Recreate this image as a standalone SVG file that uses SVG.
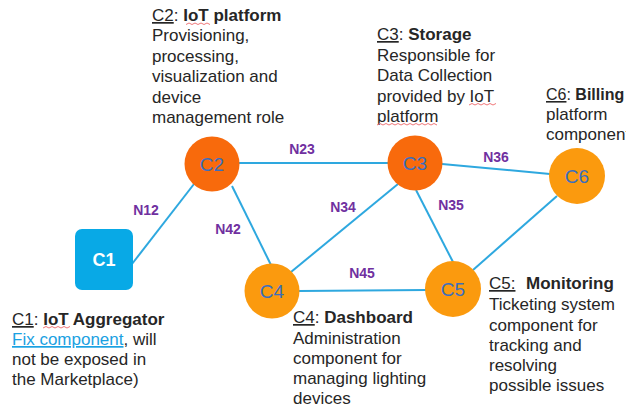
<svg xmlns="http://www.w3.org/2000/svg" width="626" height="412" viewBox="0 0 626 412">
<style>
.edge{stroke:#2EA8DF;stroke-width:2;fill:none}
.elab{font-family:"Liberation Sans",Arial,sans-serif;font-size:14px;font-weight:bold;fill:#7030A0;text-anchor:middle}
.red{fill:#F86A0C}
.org{fill:#FB9A0E}
.clab{font-family:"Liberation Sans",Arial,sans-serif;font-size:19px;fill:#3A6EBE;text-anchor:middle}
.desc{font-family:"Liberation Sans",Arial,sans-serif;font-size:17px;fill:#262626}
.b{font-weight:bold}
.u{text-decoration:underline}
.sq{stroke:#F0787A;stroke-width:1;fill:none}
</style>
<rect width="626" height="412" fill="#FFFFFF"/>
<g id="connectors">
<line class="edge" x1="132" y1="264" x2="194" y2="184"/>
<line class="edge" x1="239" y1="163" x2="388" y2="163"/>
<line class="edge" x1="232" y1="186" x2="271" y2="265"/>
<line class="edge" x1="398" y1="184" x2="291" y2="272"/>
<line class="edge" x1="442" y1="164" x2="550" y2="174"/>
<line class="edge" x1="416" y1="190" x2="453" y2="262"/>
<line class="edge" x1="299" y1="291" x2="426" y2="290"/>
<line class="edge" x1="473" y1="270" x2="557" y2="196"/>
<text class="elab" x="146" y="215">N12</text>
<text class="elab" x="302" y="154">N23</text>
<text class="elab" x="228" y="234">N42</text>
<text class="elab" x="343" y="212">N34</text>
<text class="elab" x="451" y="210">N35</text>
<text class="elab" x="496" y="162">N36</text>
<text class="elab" x="362" y="278">N45</text>
</g>
<g id="C1">
<rect x="75" y="229" width="58" height="61" rx="7" fill="#08A9E6"/>
<text x="104" y="266" font-family="Liberation Sans,Arial,sans-serif" font-size="18" font-weight="bold" fill="#FFFFFF" text-anchor="middle">C1</text>
<text class="desc" x="12"><tspan y="325"><tspan class="u">C1</tspan>: <tspan class="b">IoT Aggregator</tspan></tspan><tspan x="12" y="345"><tspan class="u" fill="#1BA1E2">Fix component</tspan>, will</tspan><tspan x="12" y="365">not be exposed in</tspan><tspan x="12" y="385">the Marketplace)</tspan></text>
<path class="sq" d="M43 328 l3 -1.5 l3 1.5 l3 -1.5 l3 1.5 l3 -1.5 l3 1.5 l3 -1.5 l3 1.5 l3 -1.5"/>
</g>
<g id="C2">
<circle cx="212" cy="164" r="27.5" class="red"/>
<text class="clab" x="212" y="171">C2</text>
<text class="desc" x="152"><tspan y="21"><tspan class="u">C2</tspan>: <tspan class="b">IoT platform</tspan></tspan><tspan x="152" y="41">Provisioning,</tspan><tspan x="152" y="62">processing,</tspan><tspan x="152" y="82">visualization and</tspan><tspan x="152" y="103">device</tspan><tspan x="152" y="123">management role</tspan></text>
<path class="sq" d="M186 24.5 l3 -1.5 l3 1.5 l3 -1.5 l3 1.5 l3 -1.5 l3 1.5 l3 -1.5 l3 1.5"/>
</g>
<g id="C3">
<circle cx="415" cy="163" r="27.5" class="red"/>
<text class="clab" x="415" y="170">C3</text>
<text class="desc" x="377"><tspan y="40"><tspan class="u">C3</tspan>: <tspan class="b">Storage</tspan></tspan><tspan x="377" y="61">Responsible for</tspan><tspan x="377" y="81">Data Collection</tspan><tspan x="377" y="102">provided by IoT</tspan><tspan x="377" y="122">platform</tspan></text>
<path class="sq" d="M469 105 l3 -1.5 l3 1.5 l3 -1.5 l3 1.5 l3 -1.5 l3 1.5 l3 -1.5 l3 1.5 l3 -1.5"/>
<path class="sq" d="M377 125 l3 -1.5 l3 1.5 l3 -1.5 l3 1.5 l3 -1.5 l3 1.5 l3 -1.5 l3 1.5 l3 -1.5 l3 1.5 l3 -1.5 l3 1.5 l3 -1.5 l3 1.5 l3 -1.5 l3 1.5 l3 -1.5 l3 1.5 l3 -1.5 l3 1.5"/>
</g>
<g id="C4">
<circle cx="272" cy="291" r="27.5" class="org"/>
<text class="clab" x="272" y="298">C4</text>
<text class="desc" x="293"><tspan y="323"><tspan class="u">C4</tspan>: <tspan class="b">Dashboard</tspan></tspan><tspan x="293" y="344">Administration</tspan><tspan x="293" y="364">component for</tspan><tspan x="293" y="384">managing lighting</tspan><tspan x="293" y="404">devices</tspan></text>
</g>
<g id="C5">
<circle cx="453" cy="289" r="28" class="org"/>
<text class="clab" x="453" y="296">C5</text>
<text class="desc" x="489"><tspan y="289"><tspan class="u">C5:</tspan><tspan class="b" x="526">Monitoring</tspan></tspan><tspan x="489" y="310">Ticketing system</tspan><tspan x="489" y="331">component for</tspan><tspan x="489" y="351">tracking and</tspan><tspan x="489" y="371">resolving</tspan><tspan x="489" y="391">possible issues</tspan></text>
</g>
<g id="C6">
<circle cx="577" cy="176" r="28" class="org"/>
<text class="clab" x="577" y="183">C6</text>
<text class="desc" x="546"><tspan y="100" font-size="16"><tspan class="u">C6</tspan>: <tspan class="b">Billing</tspan></tspan><tspan x="546" y="120">platform</tspan><tspan x="546" y="140">component</tspan></text>
</g>
</svg>
